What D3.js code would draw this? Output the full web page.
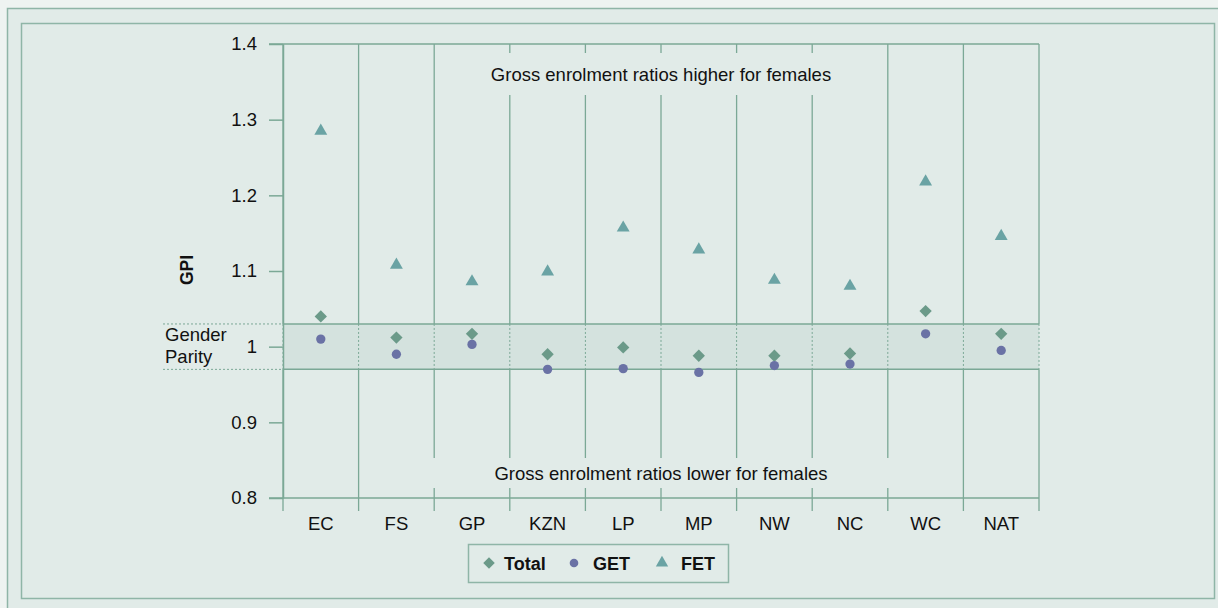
<!DOCTYPE html>
<html>
<head>
<meta charset="utf-8">
<script src="https://cdn.jsdelivr.net/npm/d3@7"></script>
<style>
  body { margin: 0; background: #eef3f1; }
  svg { display: block; font-family: "Liberation Sans", Arial, sans-serif; }
</style>
</head>
<body>
<svg id="gpi" width="1218" height="608"></svg>
<script>
// Gender parity index of gross enrolment ratios, by province

const provinces = ["EC", "FS", "GP", "KZN", "LP", "MP", "NW", "NC", "WC", "NAT"];
const totalGPI = [1.040, 1.012, 1.017, 0.990, 0.999, 0.988, 0.988, 0.991, 1.047, 1.017];
const getGPI   = [1.010, 0.990, 1.003, 0.970, 0.971, 0.966, 0.975, 0.977, 1.017, 0.995];
const fetGPI   = [1.285, 1.108, 1.086, 1.099, 1.157, 1.128, 1.088, 1.080, 1.218, 1.146];
const yTicks   = [0.8, 0.9, 1.0, 1.1, 1.2, 1.3, 1.4];
const parityBand = [0.97, 1.03];

const colTotal = "#6b9a89", colGET = "#6a72a5", colFET = "#6aa3a4";
const lineCol = "#7ba896", panelCol = "#e1ebe8", bandCol = "#d4e2de";
const fs = 18.5;

const svg = d3.select("#gpi");
const margin = { top: 44, left: 283, right: 179, bottom: 110 };
const width = 1218 - margin.left - margin.right;
const height = 608 - margin.top - margin.bottom;

// frames
svg.append("rect").attr("x", 7.5).attr("y", 8.5).attr("width", 1230).attr("height", 620)
  .attr("fill", panelCol).attr("stroke", "#8fb5a7").attr("stroke-width", 1.5);
svg.append("rect").attr("x", 21.5).attr("y", 23.5).attr("width", 1193).attr("height", 575)
  .attr("fill", panelCol).attr("stroke", "#8fb5a7").attr("stroke-width", 1.5);

const x = d3.scaleBand().domain(provinces).range([0, width]);
const y = d3.scaleLinear().domain([0.8, 1.4]).range([height, 0]);

const g = svg.append("g").attr("transform", `translate(${margin.left},${margin.top})`);

// gender parity band
g.append("rect")
  .attr("x", 0).attr("width", width)
  .attr("y", y(parityBand[1])).attr("height", y(parityBand[0]) - y(parityBand[1]))
  .attr("fill", bandCol);

// vertical category separators: solid outside the band, dotted inside
const bounds = provinces.map(p => x(p)).concat([width]);
bounds.forEach(bx => {
  g.append("line").attr("x1", bx).attr("x2", bx).attr("y1", 0).attr("y2", y(parityBand[1]))
    .attr("stroke", lineCol).attr("stroke-width", 1.3);
  g.append("line").attr("x1", bx).attr("x2", bx).attr("y1", y(parityBand[1])).attr("y2", y(parityBand[0]))
    .attr("stroke", lineCol).attr("stroke-width", 1).attr("stroke-dasharray", "2,2");
  g.append("line").attr("x1", bx).attr("x2", bx).attr("y1", y(parityBand[0])).attr("y2", height + 13)
    .attr("stroke", lineCol).attr("stroke-width", 1.3);
});

// band edges, solid in plot, dotted to the left
parityBand.forEach(v => {
  g.append("line").attr("x1", 0).attr("x2", width).attr("y1", y(v)).attr("y2", y(v))
    .attr("stroke", lineCol).attr("stroke-width", 1.5);
  g.append("line").attr("x1", -120).attr("x2", 0).attr("y1", y(v)).attr("y2", y(v))
    .attr("stroke", lineCol).attr("stroke-width", 1).attr("stroke-dasharray", "2,2");
});

// top and bottom lines
[1.4, 0.8].forEach(v => {
  g.append("line").attr("x1", -14).attr("x2", width).attr("y1", y(v)).attr("y2", y(v))
    .attr("stroke", lineCol).attr("stroke-width", 1.5);
});

// y axis
const yAxis = g.append("g")
  .call(d3.axisLeft(y).tickValues(yTicks).tickSize(14).tickSizeOuter(0).tickPadding(12)
    .tickFormat(d => d === 1 ? "1" : d3.format(".1f")(d)));
yAxis.attr("font-size", null).attr("font-family", null);
yAxis.select(".domain").attr("stroke", lineCol).attr("stroke-width", 1.5);
yAxis.selectAll(".tick line").attr("stroke", lineCol).attr("stroke-width", 1.5);
yAxis.selectAll(".tick text").attr("font-size", fs).attr("fill", "#111");

// x labels
g.append("g").selectAll("text").data(provinces).join("text")
  .attr("x", d => x(d) + x.bandwidth() / 2).attr("y", height + 32)
  .attr("text-anchor", "middle").attr("font-size", fs).attr("fill", "#111")
  .text(d => d);

// annotations with panel-coloured background
function note(txt, cy, padX, padY) {
  const t = g.append("text").attr("x", width / 2).attr("y", cy)
    .attr("text-anchor", "middle").attr("dominant-baseline", "central")
    .attr("font-size", fs).attr("fill", "#111").text(txt);
  const bb = t.node().getBBox();
  g.insert("rect", () => t.node()).attr("x", bb.x - padX).attr("y", cy - padY)
    .attr("width", bb.width + 2 * padX).attr("height", 2 * padY).attr("fill", panelCol);
}
note("Gross enrolment ratios higher for females", 30, 8, 21);
note("Gross enrolment ratios lower for females", 429, 62, 15);

// side labels
svg.append("text").attr("x", 165).attr("y", 341).attr("font-size", fs).attr("fill", "#111").text("Gender");
svg.append("text").attr("x", 165).attr("y", 363).attr("font-size", fs).attr("fill", "#111").text("Parity");
svg.append("text").attr("transform", "translate(193,270) rotate(-90)")
  .attr("text-anchor", "middle").attr("font-size", 17.5).attr("font-weight", "bold").attr("fill", "#111")
  .text("GPI");

// markers
const cx = i => x(provinces[i]) + x.bandwidth() / 2;
const diamond = d3.symbol().type(d3.symbolSquare).size(76);
const circle = d3.symbol().type(d3.symbolCircle).size(68);
const triangle = d3.symbol().type(d3.symbolTriangle).size(72);

g.append("g").selectAll("path").data(fetGPI).join("path")
  .attr("transform", (d, i) => `translate(${cx(i)},${y(d)})`)
  .attr("d", triangle).attr("fill", colFET);
g.append("g").selectAll("path").data(totalGPI).join("path")
  .attr("transform", (d, i) => `translate(${cx(i)},${y(d)}) rotate(45)`)
  .attr("d", diamond).attr("fill", colTotal);
g.append("g").selectAll("path").data(getGPI).join("path")
  .attr("transform", (d, i) => `translate(${cx(i)},${y(d)})`)
  .attr("d", circle).attr("fill", colGET);

// legend
const legend = svg.append("g").attr("transform", "translate(468,544)");
legend.append("rect").attr("x", 0.5).attr("y", 0.5).attr("width", 260).attr("height", 38)
  .attr("fill", panelCol).attr("stroke", "#8fb5a7").attr("stroke-width", 1.5);
const items = [
  { label: "Total", sym: d3.symbol().type(d3.symbolSquare).size(66), rot: 45, col: colTotal, mx: 21, tx: 36 },
  { label: "GET", sym: d3.symbol().type(d3.symbolCircle).size(58), rot: 0, col: colGET, mx: 106, tx: 125 },
  { label: "FET", sym: d3.symbol().type(d3.symbolTriangle).size(66), rot: 0, col: colFET, mx: 194, tx: 213 }
];
items.forEach(it => {
  legend.append("path").attr("transform", `translate(${it.mx},19) rotate(${it.rot})`)
    .attr("d", it.sym()).attr("fill", it.col);
  legend.append("text").attr("x", it.tx).attr("y", 26).attr("font-size", 18)
    .attr("font-weight", "bold").attr("fill", "#111").text(it.label);
});
</script>
</body>
</html>
